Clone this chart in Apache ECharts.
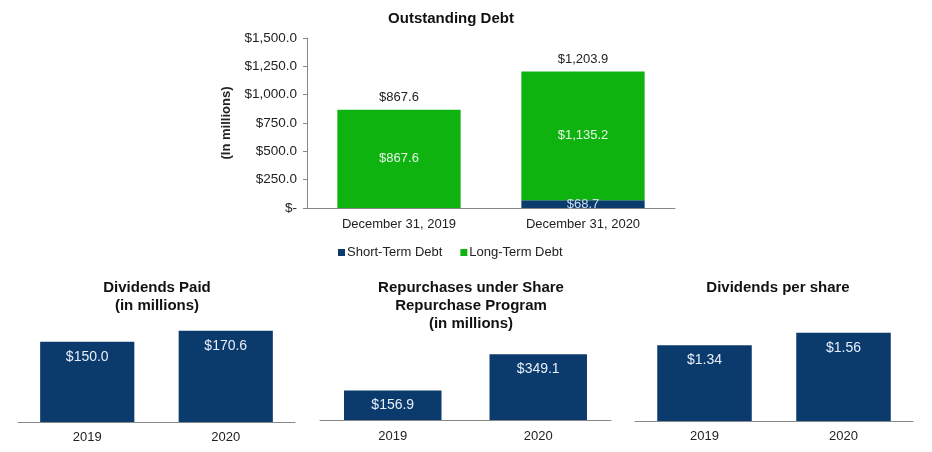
<!DOCTYPE html>
<html><head><meta charset="utf-8">
<script src="https://cdn.jsdelivr.net/npm/echarts@6/dist/echarts.min.js"></script>
<style>html,body{margin:0;padding:0;background:#fff}#c{width:932px;height:452px}</style>
</head><body><div id="c"></div>
<script>
// Outstanding debt
const debtCategories = ['December 31, 2019', 'December 31, 2020'];
const shortTermDebt = [0, 68.7];
const longTermDebt = [867.6, 1135.2];
const debtTotals = [867.6, 1203.9];
const debtTicks = [0, 250, 500, 750, 1000, 1250, 1500];
// Bottom panels
const years = ['2019', '2020'];
const dividendsPaid = [150.0, 170.6];
const repurchases = [156.9, 349.1];
const dividendsPerShare = [1.34, 1.56];

const NAVY = '#0b3a6d', GREEN = '#0fb30f', FONT = 'Liberation Sans, Arial, sans-serif';
const money = (v, d) => '$' + v.toLocaleString('en-US', {minimumFractionDigits: d, maximumFractionDigits: d});
const txt = {fontFamily: FONT, fontSize: 13, color: '#222'};
const axisLine = {show: true, lineStyle: {color: '#888', width: 1}};
const labelIn = (d) => ({show: true, position: 'insideTop', distance: 8, color: '#e8eef8', fontFamily: FONT, fontSize: 14, formatter: p => money(p.value, d)});

const chart = echarts.init(document.getElementById('c'), null, {renderer: 'canvas'});
const titleStyle = {fontFamily: FONT, fontSize: 15, fontWeight: 'bold', color: '#111', lineHeight: 18};
chart.setOption({
  animation: false,
  title: [
    {text: 'Outstanding Debt', left: 446, top: 5, textAlign: 'center', textStyle: titleStyle},
    {text: 'Dividends Paid\n(in millions)', left: 152, top: 274, textAlign: 'center', textStyle: titleStyle},
    {text: 'Repurchases under Share\nRepurchase Program\n(in millions)', left: 466, top: 274, textAlign: 'center', textStyle: titleStyle},
    {text: 'Dividends per share', left: 773, top: 274, textAlign: 'center', textStyle: titleStyle}
  ],
  legend: {
    left: 333, top: 241, itemWidth: 7, itemHeight: 7, itemGap: 18, icon: 'rect',
    textStyle: {fontFamily: FONT, fontSize: 13, color: '#222', padding: [0, 0, 0, -3]},
    data: ['Short-Term Debt', 'Long-Term Debt']
  },
  grid: [
    {left: 307, right: 257, top: 38, bottom: 244},
    {left: 18, right: 637, top: 315, bottom: 30},
    {left: 320, right: 321, top: 307, bottom: 32},
    {left: 635, right: 19, top: 308, bottom: 31}
  ],
  xAxis: [
    {gridIndex: 0, type: 'category', data: debtCategories, axisLine, axisTick: {show: false}, axisLabel: {...txt, margin: 10}},
    {gridIndex: 1, type: 'category', data: years, axisLine, axisTick: {show: false}, axisLabel: {...txt, margin: 9}},
    {gridIndex: 2, type: 'category', data: years, axisLine, axisTick: {show: false}, axisLabel: {...txt, margin: 10}},
    {gridIndex: 3, type: 'category', data: years, axisLine, axisTick: {show: false}, axisLabel: {...txt, margin: 9}}
  ],
  yAxis: [
    {gridIndex: 0, type: 'value', min: 0, max: 1500, interval: 250, axisLine, axisTick: {show: true, length: 4, lineStyle: {color: '#888'}},
     splitLine: {show: false},
     axisLabel: {...txt, fontSize: 13.5, margin: 10, formatter: v => v === 0 ? '$-' : money(v, 1)},
     name: '(In millions)', nameLocation: 'middle', nameRotate: 90, nameGap: 74,
     nameTextStyle: {fontFamily: FONT, fontSize: 13, fontWeight: 'bold', color: '#222'}},
    {gridIndex: 1, type: 'value', min: 0, max: 200, show: false},
    {gridIndex: 2, type: 'value', min: 0, max: 600, show: false},
    {gridIndex: 3, type: 'value', min: 0, max: 2, show: false}
  ],
  series: [
    {name: 'Short-Term Debt', type: 'bar', stack: 'd', xAxisIndex: 0, yAxisIndex: 0, data: shortTermDebt,
     barCategoryGap: '33%', itemStyle: {color: NAVY},
     label: {show: true, position: 'inside', color: '#cfdcee', fontFamily: FONT, fontSize: 13,
       formatter: p => p.value > 0 ? money(p.value, 1) : ''}},
    {name: 'Long-Term Debt', type: 'bar', stack: 'd', xAxisIndex: 0, yAxisIndex: 0, data: longTermDebt,
     barCategoryGap: '33%', itemStyle: {color: GREEN},
     label: {show: true, position: 'inside', color: '#e6f5e6', fontFamily: FONT, fontSize: 13, formatter: p => money(p.value, 1)}},
    {name: 'Total', type: 'bar', stack: 'd', xAxisIndex: 0, yAxisIndex: 0, data: debtTotals.map(() => 0),
     barCategoryGap: '33%', itemStyle: {color: 'transparent'}, legendHoverLink: false,
     label: {show: true, position: 'top', distance: 6, color: '#222', fontFamily: FONT, fontSize: 13,
       formatter: p => money(debtTotals[p.dataIndex], 1)}},
    {name: 'Dividends Paid', type: 'bar', xAxisIndex: 1, yAxisIndex: 1, data: dividendsPaid, barCategoryGap: '32%',
     itemStyle: {color: NAVY}, label: labelIn(1)},
    {name: 'Repurchases', type: 'bar', xAxisIndex: 2, yAxisIndex: 2, data: repurchases, barCategoryGap: '33%',
     itemStyle: {color: NAVY}, label: labelIn(1)},
    {name: 'Dividends per share', type: 'bar', xAxisIndex: 3, yAxisIndex: 3, data: dividendsPerShare, barCategoryGap: '32%',
     itemStyle: {color: NAVY}, label: labelIn(2)}
  ]
});
</script></body></html>
